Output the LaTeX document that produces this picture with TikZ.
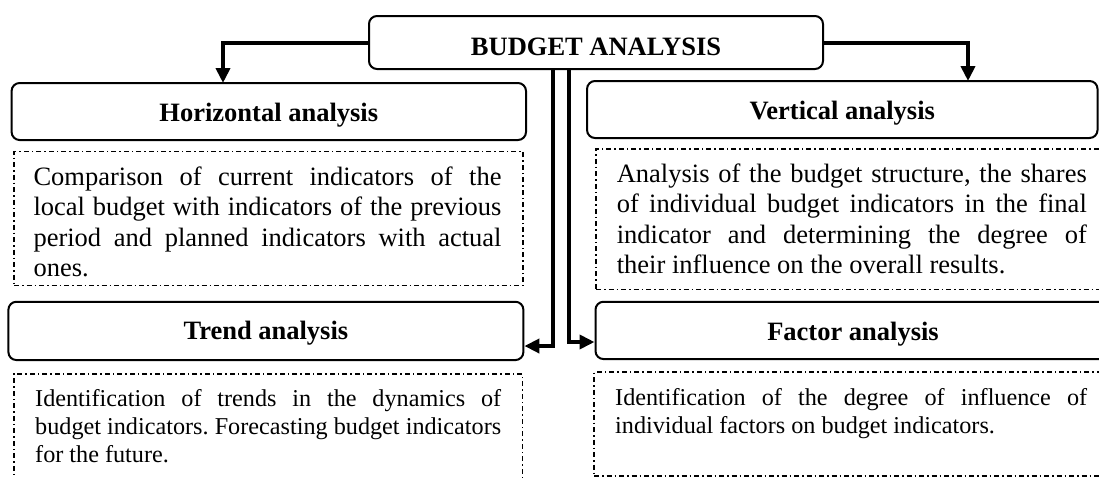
\documentclass[tikz,border=0pt]{standalone}
\usepackage{fontspec}
\setmainfont{Liberation Serif}
\usetikzlibrary{arrows.meta}
\frenchspacing
\newcommand\bigtxt{\fontsize{26.5}{30.5}\selectfont}
\newcommand\smalltxt{\fontsize{24.2}{28}\selectfont}
\tikzset{
  titlebox/.style={draw, line width=2pt, rounded corners=8pt, inner sep=0pt,
    font=\bigtxt\bfseries, text height=20pt, text depth=0pt, align=center},
  dbox/.style={draw, line width=1.4pt, dash pattern=on 5pt off 3pt on 1.5pt off 3pt,
    inner sep=0pt},
  conn/.style={line width=4pt, -{Triangle[length=15pt,width=14pt]}},
  bl/.style={anchor=base west, inner sep=0pt, font=\bigtxt},
  sl/.style={anchor=base west, inner sep=0pt, font=\smalltxt},
}
\begin{document}
\begin{tikzpicture}[x=1pt,y=-1pt]
\useasboundingbox (0,0) rectangle (1099,477);
% title boxes
\node[titlebox, text height=25pt, minimum width=454pt, minimum height=53pt] (top) at (596,42.5) {BUDGET ANALYSIS};
\node[titlebox, minimum width=514.4pt, minimum height=57pt] (hz) at (268.8,111.5) {Horizontal analysis};
\node[titlebox, minimum width=510.5pt, minimum height=57pt] (vt) at (842.3,109.5) {Vertical analysis};
\node[titlebox, text height=18pt, minimum width=515pt, minimum height=58.3pt] (tr) at (265.9,330.9) {Trend analysis};
\node[titlebox, minimum width=515pt, minimum height=57.3pt] (fa) at (853,330.4) {Factor analysis};
% dashed boxes
\node[dbox, minimum width=509pt, minimum height=134pt] (hd) at (268.5,218.7) {};
\node[dbox, minimum width=506pt, minimum height=140.5pt] (vd) at (849,219.2) {};
\node[dbox, minimum width=508.6pt, minimum height=116pt] (td) at (268.3,432) {};
\node[dbox, minimum width=508pt, minimum height=104pt] (fd) at (848,424) {};
% texts
\node[bl] (h1) at (33.3,185) {\makebox[468pt][s]{Comparison of current indicators of the}};
\node[bl] (h2) at (33.3,215.5) {\makebox[468pt][s]{local budget with indicators of the previous}};
\node[bl] (h3) at (33.3,246) {\makebox[468pt][s]{period and planned indicators with actual}};
\node[bl] (h4) at (33.3,276.5) {ones.};
\node[bl] (v1) at (616.6,182) {\makebox[470pt][s]{Analysis of the budget structure, the shares}};
\node[bl] (v2) at (616.6,212.5) {\makebox[470pt][s]{of individual budget indicators in the final}};
\node[bl] (v3) at (616.6,243) {\makebox[470pt][s]{indicator and determining the degree of}};
\node[bl] (v4) at (616.6,273.5) {their influence on the overall results.};
\node[sl] (t1) at (35,406) {\makebox[466pt][s]{Identification of trends in the dynamics of}};
\node[sl] (t2) at (35,434) {\makebox[466pt][s]{budget indicators. Forecasting budget indicators}};
\node[sl] (t3) at (35,462) {for the future.};
\node[sl] (f1) at (615,405) {\makebox[472pt][s]{Identification of the degree of influence of}};
\node[sl] (f2) at (615,433) {individual factors on budget indicators.};
% connectors
\coordinate (hzin) at (223,83);
\coordinate (vtin) at (968,81);
\coordinate (lx) at (553,0);
\coordinate (rx) at (569,0);
\coordinate (ly) at (0,346);
\coordinate (ry) at (0,342);
\draw[conn] (top.west) -| (hzin);
\draw[conn] (top.east) -| (vtin);
\draw[conn] (top.south -| lx) |- (tr.east |- ly);
\draw[conn] (top.south -| rx) |- (fa.west |- ry);
\end{tikzpicture}
\end{document}
